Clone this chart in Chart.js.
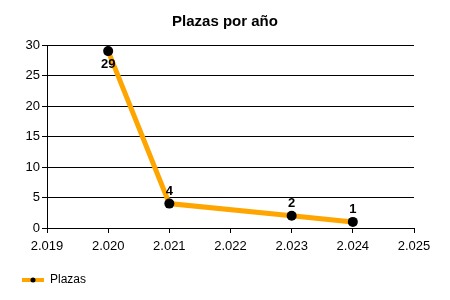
<!DOCTYPE html>
<html>
<head>
<meta charset="utf-8">
<script src="https://cdn.jsdelivr.net/npm/chart.js@4.4.0/dist/chart.umd.min.js"></script>
<style>
  body { margin: 0; background: #fff; }
</style>
</head>
<body>
<canvas id="plazasChart" width="450" height="300"></canvas>
<script>
const years = [2020, 2021, 2023, 2024];
const plazas = [29, 4, 2, 1];
const labelBelow = [true, false, false, false];
const xTicks = [2019, 2020, 2021, 2022, 2023, 2024, 2025];
const yTicks = [0, 5, 10, 15, 20, 25, 30];

const FONT = "'Liberation Sans', Arial, sans-serif";

// legend marker: orange line with black dot
const marker = document.createElement('canvas');
marker.width = 22;
marker.height = 10;
const mctx = marker.getContext('2d');
mctx.strokeStyle = '#FFA500';
mctx.lineWidth = 4;
mctx.beginPath();
mctx.moveTo(0, 5);
mctx.lineTo(22, 5);
mctx.stroke();
mctx.fillStyle = '#000';
mctx.beginPath();
mctx.arc(11, 5, 2.5, 0, Math.PI * 2);
mctx.fill();

const valueLabels = {
    id: 'valueLabels',
    afterDatasetsDraw(chart) {
        const ctx = chart.ctx;
        const meta = chart.getDatasetMeta(0);
        ctx.save();
        ctx.font = 'bold 13px ' + FONT;
        ctx.fillStyle = '#000';
        ctx.textAlign = 'center';
        meta.data.forEach((pt, i) => {
            if (labelBelow[i]) {
                ctx.textBaseline = 'top';
                ctx.fillText(plazas[i], pt.x, pt.y + 7);
            } else {
                ctx.textBaseline = 'bottom';
                ctx.fillText(plazas[i], pt.x, pt.y - 6);
            }
        });
        ctx.restore();
    }
};

const ctx = document.getElementById('plazasChart').getContext('2d');
new Chart(ctx, {
    type: 'line',
    data: {
        datasets: [{
            label: 'Plazas',
            data: years.map((y, i) => ({ x: y, y: plazas[i] })),
            borderColor: '#FFA500',
            borderWidth: 5,
            pointRadius: 5,
            pointHoverRadius: 5,
            pointBackgroundColor: '#000',
            pointBorderColor: '#000',
            pointBorderWidth: 0,
            tension: 0,
            fill: false
        }]
    },
    options: {
        responsive: false,
        animation: false,
        events: [],
        layout: { padding: { left: 12, right: 12, top: 0, bottom: 4 } },
        plugins: {
            title: {
                display: true,
                text: 'Plazas por año',
                color: '#000',
                font: { family: FONT, size: 15, weight: 'bold' },
                padding: { top: 13, bottom: 14 }
            },
            legend: {
                position: 'bottom',
                align: 'start',
                labels: {
                    color: '#000',
                    font: { family: FONT, size: 12 },
                    usePointStyle: true,
                    pointStyleWidth: 22,
                    boxHeight: 10,
                    generateLabels: () => [{
                        text: 'Plazas',
                        pointStyle: marker,
                        fillStyle: '#FFA500',
                        strokeStyle: '#FFA500',
                        lineWidth: 0,
                        fontColor: '#000'
                    }]
                }
            },
            tooltip: { enabled: false }
        },
        scales: {
            x: {
                type: 'linear',
                min: xTicks[0],
                max: xTicks[xTicks.length - 1],
                afterBuildTicks: axis => { axis.ticks = xTicks.map(v => ({ value: v })); },
                afterFit: axis => { axis.height = 36; },
                border: { color: '#000', width: 1 },
                grid: { drawOnChartArea: false, drawTicks: true, tickLength: 5, color: '#000' },
                ticks: {
                    color: '#000',
                    font: { family: FONT, size: 13 },
                    padding: 6,
                    maxRotation: 0,
                    autoSkip: false,
                    callback: v => String(v).replace(/(\d)(\d{3})$/, '$1.$2')
                }
            },
            y: {
                min: yTicks[0],
                max: yTicks[yTicks.length - 1],
                afterBuildTicks: axis => { axis.ticks = yTicks.map(v => ({ value: v })); },
                afterFit: axis => { axis.width = 35; },
                border: { color: '#000', width: 1 },
                grid: { color: '#000', lineWidth: 1, tickLength: 5 },
                ticks: {
                    color: '#000',
                    font: { family: FONT, size: 13 },
                    padding: 2
                }
            },
            spacer: {
                type: 'linear',
                position: 'right',
                display: true,
                afterFit: axis => { axis.width = 24; },
                border: { display: false },
                grid: { display: false, drawTicks: false },
                ticks: { display: false }
            }
        }
    },
    plugins: [valueLabels]
});
</script>
</body>
</html>
